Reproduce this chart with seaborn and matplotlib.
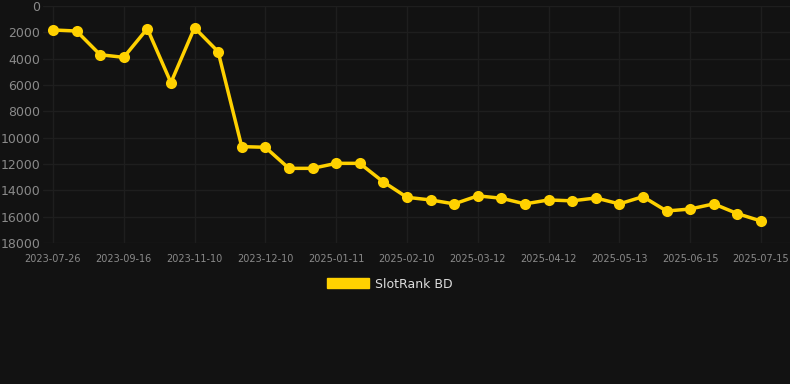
import numpy as np
import pandas as pd
import matplotlib
matplotlib.use("Agg")
import matplotlib.pyplot as plt
import seaborn as sns

# Datos (ranking, eje invertido)
fechas = ["2023-07-26", "2023-08-12", "2023-08-29", "2023-09-16", "2023-10-03",
          "2023-10-21", "2023-11-10", "2023-11-20", "2023-11-30", "2023-12-10",
          "2024-11-20", "2024-12-20", "2025-01-11", "2025-01-21", "2025-01-31",
          "2025-02-10", "2025-02-20", "2025-03-02", "2025-03-12", "2025-03-22",
          "2025-04-01", "2025-04-12", "2025-04-22", "2025-05-02", "2025-05-13",
          "2025-05-24", "2025-06-04", "2025-06-15", "2025-06-25", "2025-07-05",
          "2025-07-15"]
ranking = [1820, 1900, 3700, 3900, 1720, 5820, 1650, 3470, 10680, 10730,
           12330, 12330, 11950, 11950, 13360, 14530, 14730, 15030, 14420, 14600,
           15030, 14730, 14800, 14580, 15030, 14480, 15570, 15420, 15030, 15770,
           16330]
serie = "SlotRank BD"

df = pd.DataFrame({"pos": np.arange(len(fechas)), "fecha": fechas, "ranking": ranking})

fondo = "#121212"
amarillo = "#FFD100"
gris_texto = "#8a8a8a"
gris_grid = "#1e1e1e"

sns.set_theme(style="dark")
plt.rcParams["font.family"] = ["DejaVu Sans"]

fig = plt.figure(figsize=(7.9, 3.84), dpi=100, facecolor=fondo)
ax = fig.add_axes([43 / 790, 1 - 243 / 384, (790 - 43) / 790, (243 - 6) / 384])
ax.set_facecolor(fondo)

sns.lineplot(data=df, x="pos", y="ranking", ax=ax, color=amarillo, linewidth=2.5,
             marker="o", markersize=8, markeredgewidth=0, label=serie, legend=False)

ax.set_ylim(18000, 0)
ax.set_yticks(np.arange(0, 18001, 2000))
ax.set_xlim(-0.42, len(fechas) - 1 + 1.23)
ticks = df["pos"][::3]
ax.set_xticks(ticks)
ax.set_xticklabels(df["fecha"][::3])

ax.grid(True, color=gris_grid, linewidth=1)
ax.tick_params(axis="y", colors=gris_texto, labelsize=9, length=0, pad=2)
ax.tick_params(axis="x", colors=gris_texto, labelsize=7, length=5, width=1, pad=3)
ax.tick_params(axis="x", color=gris_grid)
for s in ax.spines.values():
    s.set_visible(False)
ax.set_xlabel("")
ax.set_ylabel("")

# Leyenda abajo, centrada
from matplotlib.patches import Patch
h = [Patch(facecolor=amarillo, edgecolor=amarillo)]
fig.legend(h, [serie], loc="center", bbox_to_anchor=(390 / 790, 1 - 284 / 384),
           frameon=False, fontsize=9, labelcolor="#dddddd", handlelength=3.3,
           handleheight=0.9, handletextpad=0.5)

fig.savefig("out.png", dpi=100, facecolor=fondo)
